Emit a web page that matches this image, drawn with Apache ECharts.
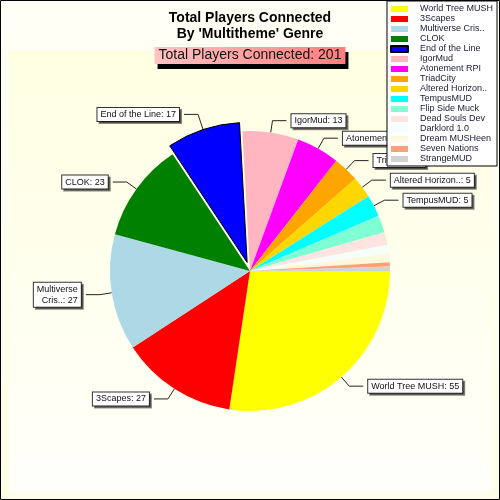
<!DOCTYPE html>
<html>
<head>
<meta charset="utf-8">
<script src="https://cdn.jsdelivr.net/npm/echarts@6/dist/echarts.min.js"></script>
<style>
  html, body { margin: 0; padding: 0; }
  #players-genre { width: 500px; height: 500px; }
</style>
</head>
<body>
<div id="players-genre"></div>
<script>
// Total players connected, Multitheme genre
const muds = [
  "World Tree MUSH", "3Scapes", "Multiverse Cris..", "CLOK", "End of the Line",
  "IgorMud", "Atonement RPI", "TriadCity", "Altered Horizon..", "TempusMUD",
  "Flip Side Muck", "Dead Souls Dev", "Darklord 1.0", "Dream MUSHeen",
  "Seven Nations", "StrangeMUD"
];
const players = [55, 27, 27, 23, 17, 13, 10, 6, 5, 5, 4, 3, 2, 2, 1, 1];
const colors = [
  "#ffff00", "#ff0000", "#add8e6", "#008000", "#0000ff",
  "#ffb6c1", "#ff00ff", "#ffa500", "#ffd700", "#00ffff",
  "#7fffd4", "#ffe4e1", "#f5fffa", "#fff8dc", "#ffa07a", "#d3d3d3"
];
const explodedMud = "End of the Line";
const minLabelValue = 5;

(function() {
  const FONT = "Liberation Sans, Arial, sans-serif";
  const total = players.reduce((a, b) => a + b, 0);

  const data = muds.map((name, i) => {
    const labelled = players[i] >= minLabelValue;
    const item = {
      name: name,
      value: players[i],
      itemStyle: { color: colors[i] },
      label: { show: labelled },
      labelLine: { show: labelled }
    };
    if (name === explodedMud) {
      item.selected = true;
      item.itemStyle.borderColor = "#000";
      item.itemStyle.borderWidth = 1;
      item.labelLine.length = 16;
    }
    return item;
  });

  const option = {
    animation: false,
    backgroundColor: new echarts.graphic.LinearGradient(0, 0, 0, 1, [
      { offset: 0, color: "#fffff6" },
      { offset: 1, color: "#ffffe6" }
    ]),
    graphic: [
      {
        type: "rect",
        z: -10,
        shape: { x: 9, y: 50, width: 483, height: 443 },
        style: {
          fill: new echarts.graphic.LinearGradient(0, 0, 0, 1, [
            { offset: 0, color: "#ffffe2" },
            { offset: 1, color: "#fffffa" }
          ])
        }
      },
      {
        type: "rect",
        z: 100,
        shape: { x: 0.5, y: 0.5, width: 499, height: 499 },
        style: { fill: "none", stroke: "#000", lineWidth: 1 }
      }
    ],
    title: [
      {
        text: "Total Players Connected\nBy 'Multitheme' Genre",
        left: "center",
        top: 5,
        textStyle: {
          fontFamily: FONT,
          fontSize: 14,
          fontWeight: "bold",
          lineHeight: 16,
          color: "#000",
          textShadowColor: "rgba(40,40,120,0.45)",
          textShadowOffsetX: 1,
          textShadowOffsetY: 1
        }
      },
      {
        text: "Total Players Connected: " + total,
        left: "center",
        top: 47,
        padding: [0, 4, 1, 4],
        backgroundColor: new echarts.graphic.LinearGradient(0, 0, 1, 1, [
          { offset: 0, color: "#ffc4c4" },
          { offset: 1, color: "#ff7c7c" }
        ]),
        shadowColor: "#000",
        shadowBlur: 0.01,
        shadowOffsetX: 3,
        shadowOffsetY: 5,
        textStyle: {
          fontFamily: FONT,
          fontSize: 14,
          fontWeight: "normal",
          lineHeight: 16,
          color: "#111"
        }
      }
    ],
    legend: {
      orient: "vertical",
      right: 3,
      top: 1,
      z: 50,
      padding: [3, 4, 2, 3],
      itemGap: 0,
      itemWidth: 17,
      itemHeight: 6,
      icon: "rect",
      backgroundColor: "#fff",
      borderColor: "#000",
      borderWidth: 1,
      selectedMode: false,
      textStyle: {
        fontFamily: FONT,
        fontSize: 9,
        lineHeight: 10,
        color: "#1a1a33",
        padding: [0, 0, 0, 7]
      },
      data: muds
    },
    series: [
      {
        type: "pie",
        center: [250, 271],
        radius: 140,
        startAngle: 0,
        clockwise: true,
        selectedMode: "single",
        selectedOffset: 9,
        avoidLabelOverlap: true,
        emphasis: { disabled: true },
        label: {
          fontFamily: FONT,
          fontSize: 9,
          lineHeight: 11,
          color: "#111",
          backgroundColor: "#fff",
          borderColor: "#333",
          borderWidth: 1,
          padding: [1, 3, 1, 3],
          shadowColor: "rgba(0,0,0,0.45)",
          shadowBlur: 0.01,
          shadowOffsetX: 2,
          shadowOffsetY: 2,
          formatter: (p) => {
            const text = p.name + ": " + p.value;
            return p.name === "Multiverse Cris.." ? text.replace(" ", "\n") : text;
          }
        },
        labelLine: {
          length: 12,
          length2: 14,
          lineStyle: { color: "#222", width: 1 }
        },
        data: data
      }
    ]
  };

  const chart = echarts.init(document.getElementById("players-genre"));
  chart.setOption(option);
  window.addEventListener("resize", () => chart.resize());
})();
</script>
</body>
</html>
